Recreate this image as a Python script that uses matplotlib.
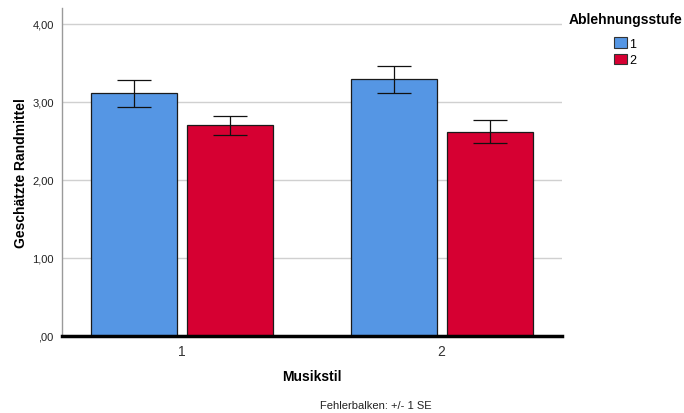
import matplotlib
matplotlib.use("Agg")
import matplotlib.pyplot as plt
import numpy as np
from matplotlib.patches import Patch
from matplotlib.ticker import FuncFormatter

plt.rcParams["font.family"] = ["Liberation Sans", "DejaVu Sans"]

# Geschätzte Randmittel je Musikstil und Ablehnungsstufe
musikstil = ["1", "2"]
stufen = ["1", "2"]
mittel = {
    "1": [3.11, 3.29],
    "2": [2.70, 2.62],
}
se = {
    "1": [0.17, 0.175],
    "2": [0.12, 0.145],
}
farben = {"1": "#5596E4", "2": "#D60032"}

fig = plt.figure(figsize=(6.84, 4.14), dpi=100)
ax = fig.add_axes([62 / 684, 77 / 414, 500 / 684, 328 / 414])

x = np.arange(len(musikstil))
width = 0.331
offsets = {"1": -0.183, "2": 0.185}

for stufe in stufen:
    ax.bar(
        x + offsets[stufe], mittel[stufe], width=width,
        color=farben[stufe], edgecolor="#1a1a1a", linewidth=0.9, zorder=3,
    )
    ax.errorbar(
        x + offsets[stufe], mittel[stufe], yerr=se[stufe],
        fmt="none", ecolor="#111111", elinewidth=0.9, capsize=12, capthick=0.9, zorder=4,
    )

ax.set_xlim(-0.46, 1.463)
ax.set_ylim(0, 4.205)
ax.set_xticks(x)
ax.set_xticklabels(musikstil, fontsize=10, color="#333333")
ax.set_yticks([0, 1, 2, 3, 4])


def komma(v, pos):
    s = f"{v:.2f}".replace(".", ",")
    return s[1:] if s.startswith("0") else s


ax.yaxis.set_major_formatter(FuncFormatter(komma))
ax.tick_params(axis="y", labelsize=8, length=0, pad=6, colors="#222222")
ax.tick_params(axis="x", length=0, pad=6)
ax.grid(axis="y", color="#d0d0d0", linewidth=1.0, zorder=0)
ax.set_axisbelow(True)

for side in ["top", "right"]:
    ax.spines[side].set_visible(False)
ax.spines["left"].set_color("#9a9a9a")
ax.spines["left"].set_linewidth(1.0)
ax.spines["bottom"].set_color("#000000")
ax.spines["bottom"].set_linewidth(2.5)
ax.spines["bottom"].set_zorder(5)

ax.set_ylabel("Geschätzte Randmittel", fontsize=10, fontweight="bold", labelpad=3)
ax.set_xlabel("Musikstil", fontsize=10, fontweight="bold", labelpad=8)

fig.text(376 / 684, 1 - 406 / 414, "Fehlerbalken: +/- 1 SE",
         ha="center", va="center", fontsize=8, color="#222222")

# Legende: Titel separat, Einträge darunter
fig.text(569 / 684, 1 - 20 / 414, "Ablehnungsstufe",
         ha="left", va="center", fontsize=10, fontweight="bold")
handles = [Patch(facecolor=farben[s], edgecolor="#333333", linewidth=0.8) for s in stufen]
fig.legend(
    handles, stufen, loc="upper left",
    bbox_to_anchor=(613 / 684, 1 - 37 / 414), frameon=False,
    fontsize=9, handlelength=1.0, handleheight=0.9, handletextpad=0.2,
    labelspacing=0.3, borderaxespad=0, borderpad=0.1,
)

fig.savefig("out.png", dpi=100, facecolor="white")
